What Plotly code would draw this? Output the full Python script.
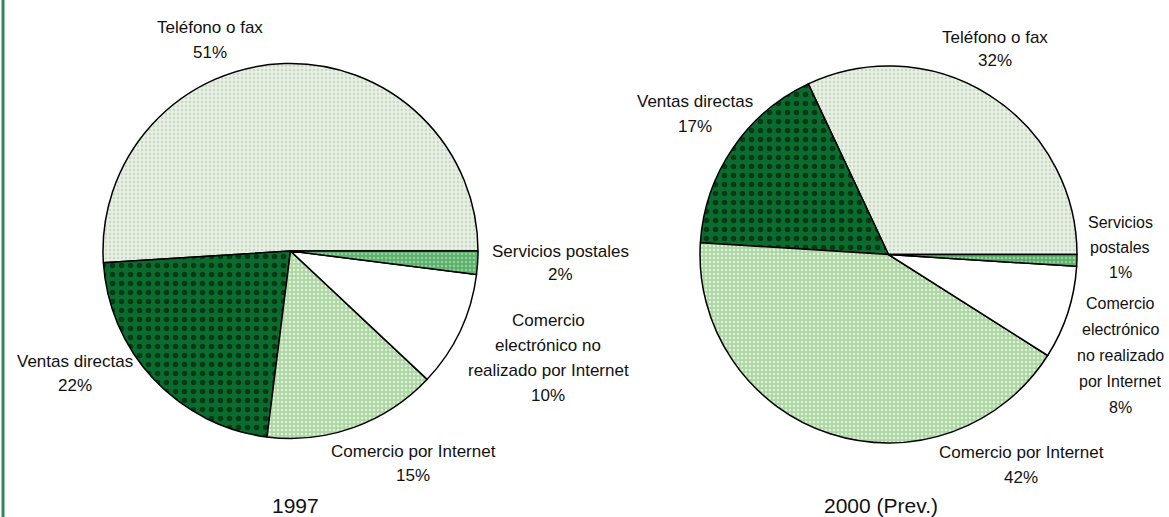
import plotly.graph_objects as go

categories = ["Teléfono o fax", "Ventas directas", "Comercio por Internet",
              "Comercio electrónico no realizado por Internet", "Servicios postales"]
values_1997 = [51, 22, 15, 10, 2]
values_2000 = [32, 17, 42, 8, 1]
labels_1997 = ["Teléfono o fax", "Ventas directas", "Comercio por Internet",
               "Comercio<br>electrónico no<br>realizado por Internet", "Servicios postales"]
labels_2000 = ["Teléfono o fax", "Ventas directas", "Comercio por Internet",
               "Comercio<br>electrónico<br>no realizado<br>por Internet", "Servicios<br>postales"]
titles = ["1997", "2000 (Prev.)"]

bg_colors = ["#e6f1e2", "#0c6b2f", "#afd4a7", "#ffffff", "#5fae6e"]
fg_colors = ["#ccd6c9", "#023a14", "#dcf7d4", "#ffffff", "#8fd49a"]
shapes = [".", ".", ".", "", "."]
sizes = [4, 9, 4, 4, 4]

FONT = "Liberation Sans Narrow, Arial Narrow, Liberation Sans, Arial, sans-serif"
W, H = 1169, 517


def dom(x0, x1, y0, y1):
    return dict(x=[x0 / W, x1 / W], y=[1 - y1 / H, 1 - y0 / H])


fig = go.Figure()
for vals, d in [(values_1997, dom(103, 478, 62, 440)),
                (values_2000, dom(700, 1077, 62, 447))]:
    # counterclockwise: rotation marks the far edge of the first slice;
    # place the first slice so that it starts at 3 o'clock
    rot = 90 - 360 * vals[0] / sum(vals)
    fig.add_trace(go.Pie(
        labels=categories, values=vals, sort=False, direction="counterclockwise",
        rotation=rot, textinfo="none", hoverinfo="label+percent",
        domain=d, showlegend=False,
        marker=dict(colors=bg_colors, line=dict(color="#000000", width=1.5),
                    pattern=dict(shape=shapes, fgcolor=fg_colors, bgcolor=bg_colors,
                                 size=sizes, solidity=0.3)),
    ))

# label centres (pixels in 1169x517 canvas), order follows categories
pos_1997 = [(210, 40), (75, 373), (413, 463), (548, 358), (560, 263)]
pos_2000 = [(995, 49), (695, 114), (1021, 465), (1120, 355), (1120, 247)]
size_1997 = [17, 17, 17, 17, 17]
size_2000 = [17, 17, 17, 16, 16]
gap_1997 = [24, 24, 24, 25, 23]
gap_2000 = [23, 25, 25, 26, 25]

annotations = []
for labs, vals, pos, szs, gaps in [(labels_1997, values_1997, pos_1997, size_1997, gap_1997),
                                   (labels_2000, values_2000, pos_2000, size_2000, gap_2000)]:
    for lab, v, (px, py), s, g in zip(labs, vals, pos, szs, gaps):
        lines = lab.split("<br>") + [f"{v}%"]
        n = len(lines)
        for i, ln in enumerate(lines):
            yy = py + (i - (n - 1) / 2) * g
            annotations.append(dict(
                x=px / W, y=1 - yy / H, xref="paper", yref="paper",
                text=ln, showarrow=False, xanchor="center", yanchor="middle",
                font=dict(family=FONT, size=s, color="#111111")))
for t, (px, py) in zip(titles, [(295, 505), (881, 505)]):
    annotations.append(dict(
        x=px / W, y=1 - py / H, xref="paper", yref="paper", text=t, showarrow=False,
        xanchor="center", yanchor="middle",
        font=dict(family="Liberation Sans, Arial, sans-serif", size=21, color="#111111")))

fig.update_layout(
    width=W, height=H, margin=dict(l=0, r=0, t=0, b=0),
    paper_bgcolor="#ffffff", plot_bgcolor="#ffffff",
    annotations=annotations,
    shapes=[dict(type="line", xref="paper", yref="paper", x0=3 / W, x1=3 / W, y0=0, y1=1,
                 line=dict(color="#2e8b57", width=3))],
)

fig.write_html("out.html", config={"displayModeBar": False},
               post_script="document.body.style.margin='0';document.body.style.overflow='hidden';")
